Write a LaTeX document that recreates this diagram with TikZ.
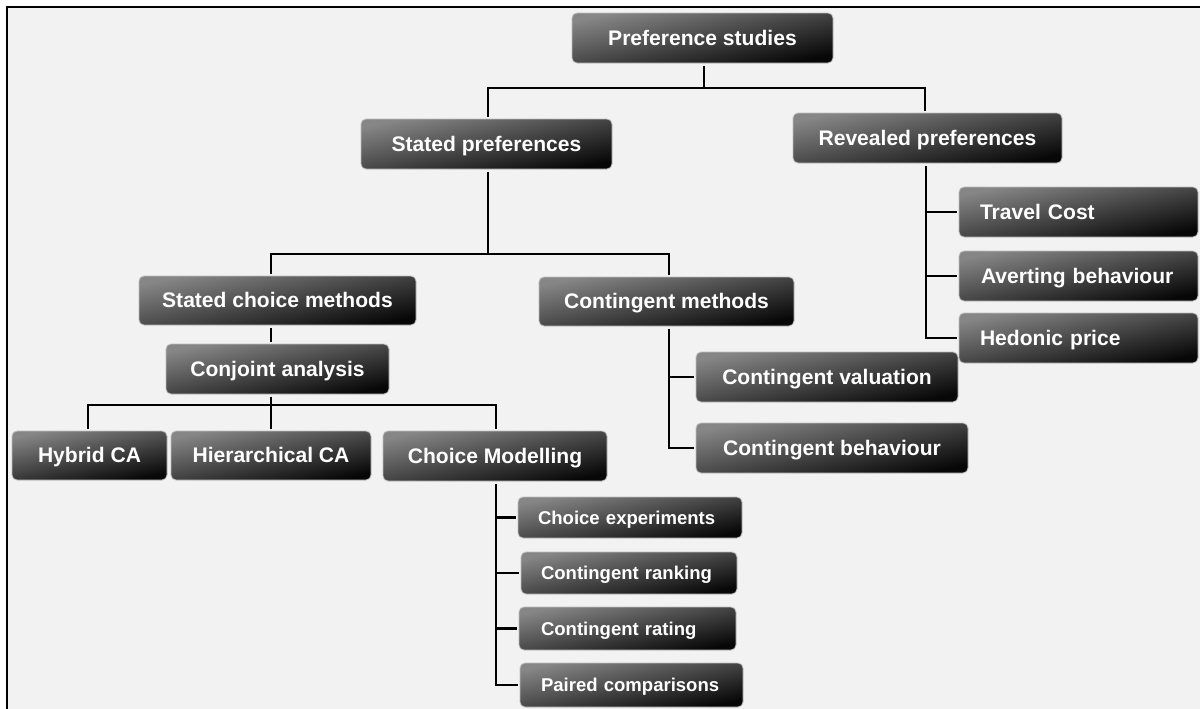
\documentclass[tikz,border=0pt]{standalone}
\usepackage{fontspec}
\setmainfont{Liberation Sans}
\newdimen\pxu
\pxu=0.75pt
\definecolor{bgc}{HTML}{F2F2F2}
\definecolor{ctop}{HTML}{868686}
\definecolor{cbot}{HTML}{070707}
\definecolor{cedge}{HTML}{BDBDBD}
\tikzset{
  box/.style={rounded corners=5\pxu, inner sep=0pt, outer sep=2.5\pxu,
    text=white, font=\bfseries\fontsize{15.8}{18}\selectfont,
    text height=13pt, text depth=2.5pt,
    top color=ctop, bottom color=cbot, shading angle=12,
    draw=cedge, line width=0.8\pxu},
  sbox/.style={box, font=\bfseries\fontsize{13.9}{16}\selectfont,
    text height=11.5pt, text depth=1.7pt},
  wire/.style={line width=2.2\pxu, draw=black},
}
\begin{document}
\begin{tikzpicture}[x=0.75pt, y=-0.75pt]
\useasboundingbox (0,0) rectangle (1200,708);
\clip (0,0) rectangle (1200,708);
\fill[white] (0,0) rectangle (1200,708);
\fill[bgc] (7,7) rectangle (1210,720);
\draw[line width=2\pxu] (6.5,720) -- (6.5,7) -- (1210,7);

% nodes
\node[box, minimum width=261\pxu, minimum height=50\pxu] (ps) at (702.5,38) {Preference studies};
\node[box, minimum width=251\pxu, minimum height=50\pxu] (sp) at (486.5,144) {Stated preferences};
\node[box, minimum width=269\pxu, minimum height=50\pxu] (rp) at (927.5,138) {Revealed preferences};
\node[box, minimum width=239\pxu, minimum height=50\pxu, inner xsep=21\pxu, text width=197\pxu, align=left] (tc) at (1078.5,212) {Travel Cost};
\node[box, minimum width=239\pxu, minimum height=50\pxu, inner xsep=22\pxu, text width=195\pxu, align=left] (ab) at (1078.5,276) {Averting behaviour};
\node[box, minimum width=239\pxu, minimum height=50\pxu, inner xsep=21\pxu, text width=197\pxu, align=left] (hp) at (1078.5,338) {Hedonic price};
\node[box, minimum width=277\pxu, minimum height=49\pxu] (scm) at (277.5,300.5) {Stated choice methods};
\node[box, minimum width=255\pxu, minimum height=49\pxu] (cm) at (666.5,301.5) {Contingent methods};
\node[box, minimum width=223\pxu, minimum height=50\pxu] (ca) at (277.5,369) {Conjoint analysis};
\node[box, minimum width=262\pxu, minimum height=50\pxu] (cv) at (827,377) {Contingent valuation};
\node[box, minimum width=272\pxu, minimum height=50\pxu] (cb) at (832,448) {Contingent behaviour};
\node[box, minimum width=155\pxu, minimum height=49\pxu] (hy) at (89.5,455.5) {Hybrid CA};
\node[box, minimum width=200\pxu, minimum height=49\pxu] (hi) at (271,455.5) {Hierarchical CA};
\node[box, minimum width=224\pxu, minimum height=50\pxu] (cmod) at (495,456) {Choice Modelling};
\node[sbox, minimum width=224\pxu, minimum height=41\pxu, inner xsep=20\pxu, text width=184\pxu, align=left] (ce) at (630,517.5) {Choice experiments};
\node[sbox, minimum width=216\pxu, minimum height=42\pxu, inner xsep=20\pxu, text width=176\pxu, align=left] (cr) at (629,573) {Contingent ranking};
\node[sbox, minimum width=217\pxu, minimum height=43\pxu, inner xsep=22\pxu, text width=173\pxu, align=left] (crt) at (627.5,628.5) {Contingent rating};
\node[sbox, minimum width=223\pxu, minimum height=44\pxu, inner xsep=21\pxu, text width=181\pxu, align=left] (pc) at (631.5,685) {Paired comparisons};

% junction coordinates
\coordinate (j1) at (704,88);
\coordinate (j1l) at (488,88);
\coordinate (j1r) at (925,88);
\coordinate (j2) at (488,254);
\coordinate (j2l) at (271,254);
\coordinate (j2r) at (669,254);
\coordinate (j3) at (271,405);
\coordinate (j3l) at (88,405);
\coordinate (j3r) at (496,405);
\coordinate (j4) at (926,0);
\coordinate (j5) at (669,0);
\coordinate (j6) at (496,0);

% connectors
\draw[wire] (ps.south -| j1) -- (j1);
\draw[wire] (sp.north -| j1l) -- (j1l) -- (j1r) -- (rp.north -| j1r);
\draw[wire] (sp.south -| j2) -- (j2);
\draw[wire] (scm.north -| j2l) -- (j2l) -- (j2r) -- (cm.north -| j2r);
\draw[wire] (scm.south -| j3) -- (ca.north -| j3);
\draw[wire] (ca.south -| j3) -- (j3);
\draw[wire] (hy.north -| j3l) -- (j3l) -- (j3r) -- (cmod.north -| j3r);
\draw[wire] (j3) -- (hi.north -| j3);
\draw[wire] (rp.south -| j4) |- (hp.west);
\draw[wire] (j4 |- tc.west) -- (tc.west);
\draw[wire] (j4 |- ab.west) -- (ab.west);
\draw[wire] (cm.south -| j5) |- (cb.west);
\draw[wire] (j5 |- cv.west) -- (cv.west);
\draw[wire] (cmod.south -| j6) |- (pc.west);
\draw[wire] (j6 |- ce.west) -- (ce.west);
\draw[wire] (j6 |- cr.west) -- (cr.west);
\draw[wire] (j6 |- crt.west) -- (crt.west);
\end{tikzpicture}
\end{document}
